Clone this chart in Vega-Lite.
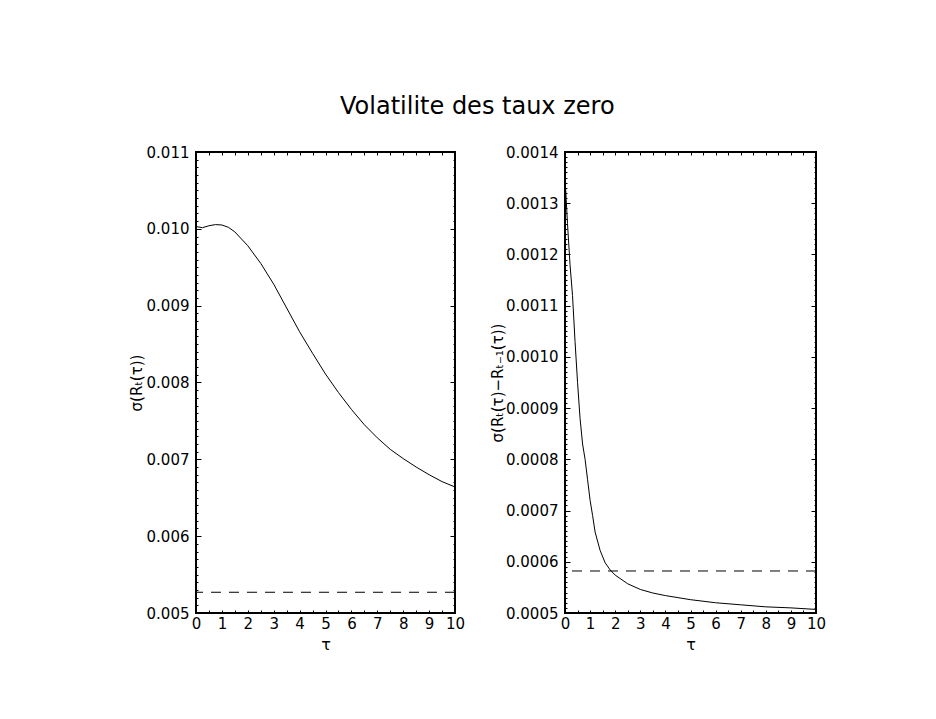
{
  "$schema": "https://vega.github.io/schema/vega-lite/v6.json",
  "background": "white",
  "padding": {"left": 128, "top": 95, "right": 5, "bottom": 5},
  "title": {"text": "Volatilite des taux zero", "font": "DejaVu Sans", "fontSize": 24, "fontWeight": "normal", "color": "black", "anchor": "middle", "offset": 25},
  "config": {
    "view": {"stroke": "black", "strokeWidth": 2},
    "axis": {"domain": false, "grid": false, "labelFont": "DejaVu Sans", "labelFontSize": 15, "labelColor": "black", "titleFont": "DejaVu Sans", "titleFontSize": 15, "titleFontWeight": "normal", "titleColor": "black", "tickColor": "black", "tickWidth": 1}
  },
  "datasets": {
    "left": [
      {"tau": 0, "v": 0.01003}, {"tau": 0.25, "v": 0.010015}, {"tau": 0.5, "v": 0.01004}, {"tau": 0.75, "v": 0.010055},
      {"tau": 1, "v": 0.01005}, {"tau": 1.25, "v": 0.01002}, {"tau": 1.5, "v": 0.00996}, {"tau": 2, "v": 0.00978},
      {"tau": 2.5, "v": 0.00955}, {"tau": 3, "v": 0.00928}, {"tau": 3.5, "v": 0.00897}, {"tau": 4, "v": 0.00866},
      {"tau": 4.5, "v": 0.00838}, {"tau": 5, "v": 0.00811}, {"tau": 5.5, "v": 0.00787}, {"tau": 6, "v": 0.00765},
      {"tau": 6.5, "v": 0.00745}, {"tau": 7, "v": 0.00728}, {"tau": 7.5, "v": 0.00713}, {"tau": 8, "v": 0.00701},
      {"tau": 8.5, "v": 0.00690}, {"tau": 9, "v": 0.00680}, {"tau": 9.5, "v": 0.00671}, {"tau": 10, "v": 0.00664}
    ],
    "right": [
      {"tau": 0, "v": 0.00135}, {"tau": 0.1, "v": 0.00126}, {"tau": 0.2, "v": 0.00118}, {"tau": 0.3, "v": 0.00112},
      {"tau": 0.4, "v": 0.00103}, {"tau": 0.5, "v": 0.00095}, {"tau": 0.6, "v": 0.00088}, {"tau": 0.7, "v": 0.00083},
      {"tau": 0.8, "v": 0.00080}, {"tau": 0.9, "v": 0.00076}, {"tau": 1.0, "v": 0.00072}, {"tau": 1.1, "v": 0.00069},
      {"tau": 1.2, "v": 0.000658}, {"tau": 1.4, "v": 0.000622}, {"tau": 1.6, "v": 0.000598}, {"tau": 1.8, "v": 0.000584},
      {"tau": 2.0, "v": 0.000574}, {"tau": 2.5, "v": 0.000557}, {"tau": 3, "v": 0.000546}, {"tau": 3.5, "v": 0.000539},
      {"tau": 4, "v": 0.000534}, {"tau": 4.5, "v": 0.00053}, {"tau": 5, "v": 0.000526}, {"tau": 6, "v": 0.00052},
      {"tau": 7, "v": 0.000516}, {"tau": 8, "v": 0.000512}, {"tau": 9, "v": 0.00051}, {"tau": 10, "v": 0.000507}
    ],
    "lref": [{"y": 0.00527}],
    "rref": [{"y": 0.000582}]
  },
  "spacing": 23,
  "hconcat": [
    {
      "width": 259,
      "height": 461,
      "resolve": {"axis": {"x": "independent", "y": "independent"}},
      "layer": [
        {
          "data": {"name": "left"},
          "mark": {"type": "line", "color": "black", "strokeWidth": 1},
          "encoding": {
            "x": {"field": "tau", "type": "quantitative", "scale": {"domain": [0, 10], "nice": false},
                  "axis": {"orient": "bottom", "values": [0,1,2,3,4,5,6,7,8,9,10], "ticks": false, "labelPadding": 3, "labelFlush": false, "title": "τ", "titleFontSize": 16, "titlePadding": 5}},
            "y": {"field": "v", "type": "quantitative", "scale": {"domain": [0.005, 0.011], "nice": false, "zero": false},
                  "axis": {"orient": "left", "values": [0.005,0.006,0.007,0.008,0.009,0.010,0.011], "format": ".3f", "ticks": false, "labelPadding": 7, "labelFlush": false, "title": "σ(Rₜ(τ))", "titlePadding": 2}}
          }
        },
        {
          "data": {"name": "lref"},
          "mark": {"type": "rule", "color": "black", "strokeWidth": 1, "strokeDash": [10, 8]},
          "encoding": {"y": {"field": "y", "type": "quantitative", "axis": null}}
        },
        {
          "data": {"name": "left"},
          "mark": {"type": "point", "opacity": 0},
          "encoding": {
            "x": {"field": "tau", "type": "quantitative", "axis": {"orient": "top", "tickCount": 20, "labels": false, "tickSize": -3, "title": null}},
            "y": {"field": "v", "type": "quantitative", "axis": {"orient": "right", "values": [0.005,0.006,0.007,0.008,0.009,0.010,0.011], "labels": false, "tickSize": -5, "title": null}}
          }
        },
        {
          "data": {"name": "left"},
          "mark": {"type": "point", "opacity": 0},
          "encoding": {
            "x": {"field": "tau", "type": "quantitative", "axis": {"orient": "bottom", "tickCount": 20, "labels": false, "tickSize": -3, "title": null}},
            "y": {"field": "v", "type": "quantitative", "axis": {"orient": "left", "tickCount": 60, "labels": false, "tickSize": -2, "title": null}}
          }
        },
        {
          "data": {"name": "left"},
          "mark": {"type": "point", "opacity": 0},
          "encoding": {
            "x": {"field": "tau", "type": "quantitative", "axis": null},
            "y": {"field": "v", "type": "quantitative", "axis": {"orient": "right", "tickCount": 60, "labels": false, "tickSize": -2, "title": null}}
          }
        },
        {
          "data": {"name": "left"},
          "mark": {"type": "point", "opacity": 0},
          "encoding": {
            "x": {"field": "tau", "type": "quantitative", "axis": null},
            "y": {"field": "v", "type": "quantitative", "axis": {"orient": "left", "values": [0.005,0.006,0.007,0.008,0.009,0.010,0.011], "labels": false, "tickSize": -5, "title": null}}
          }
        }
      ]
    },
    {
      "width": 251,
      "height": 461,
      "resolve": {"axis": {"x": "independent", "y": "independent"}},
      "layer": [
        {
          "data": {"name": "right"},
          "mark": {"type": "line", "color": "black", "strokeWidth": 1},
          "encoding": {
            "x": {"field": "tau", "type": "quantitative", "scale": {"domain": [0, 10], "nice": false},
                  "axis": {"orient": "bottom", "values": [0,1,2,3,4,5,6,7,8,9,10], "ticks": false, "labelPadding": 3, "labelFlush": false, "title": "τ", "titleFontSize": 16, "titlePadding": 5}},
            "y": {"field": "v", "type": "quantitative", "scale": {"domain": [0.0005, 0.0014], "nice": false, "zero": false},
                  "axis": {"orient": "left", "values": [0.0005,0.0006,0.0007,0.0008,0.0009,0.0010,0.0011,0.0012,0.0013,0.0014], "format": ".4f", "ticks": false, "labelPadding": 7, "labelFlush": false, "title": "σ(Rₜ(τ)−Rₜ₋₁(τ))", "titlePadding": 0}}
          }
        },
        {
          "data": {"name": "rref"},
          "mark": {"type": "rule", "color": "black", "strokeWidth": 1, "strokeDash": [10, 8]},
          "encoding": {"y": {"field": "y", "type": "quantitative", "axis": null}}
        },
        {
          "data": {"name": "right"},
          "mark": {"type": "point", "opacity": 0},
          "encoding": {
            "x": {"field": "tau", "type": "quantitative", "axis": {"orient": "top", "tickCount": 20, "labels": false, "tickSize": -3, "title": null}},
            "y": {"field": "v", "type": "quantitative", "axis": {"orient": "right", "values": [0.0005,0.0006,0.0007,0.0008,0.0009,0.0010,0.0011,0.0012,0.0013,0.0014], "labels": false, "tickSize": -5, "title": null}}
          }
        },
        {
          "data": {"name": "right"},
          "mark": {"type": "point", "opacity": 0},
          "encoding": {
            "x": {"field": "tau", "type": "quantitative", "axis": {"orient": "bottom", "tickCount": 20, "labels": false, "tickSize": -3, "title": null}},
            "y": {"field": "v", "type": "quantitative", "axis": {"orient": "left", "tickCount": 90, "labels": false, "tickSize": -2, "title": null}}
          }
        },
        {
          "data": {"name": "right"},
          "mark": {"type": "point", "opacity": 0},
          "encoding": {
            "x": {"field": "tau", "type": "quantitative", "axis": null},
            "y": {"field": "v", "type": "quantitative", "axis": {"orient": "right", "tickCount": 90, "labels": false, "tickSize": -2, "title": null}}
          }
        },
        {
          "data": {"name": "right"},
          "mark": {"type": "point", "opacity": 0},
          "encoding": {
            "x": {"field": "tau", "type": "quantitative", "axis": null},
            "y": {"field": "v", "type": "quantitative", "axis": {"orient": "left", "values": [0.0005,0.0006,0.0007,0.0008,0.0009,0.0010,0.0011,0.0012,0.0013,0.0014], "labels": false, "tickSize": -5, "title": null}}
          }
        }
      ]
    }
  ]
}
